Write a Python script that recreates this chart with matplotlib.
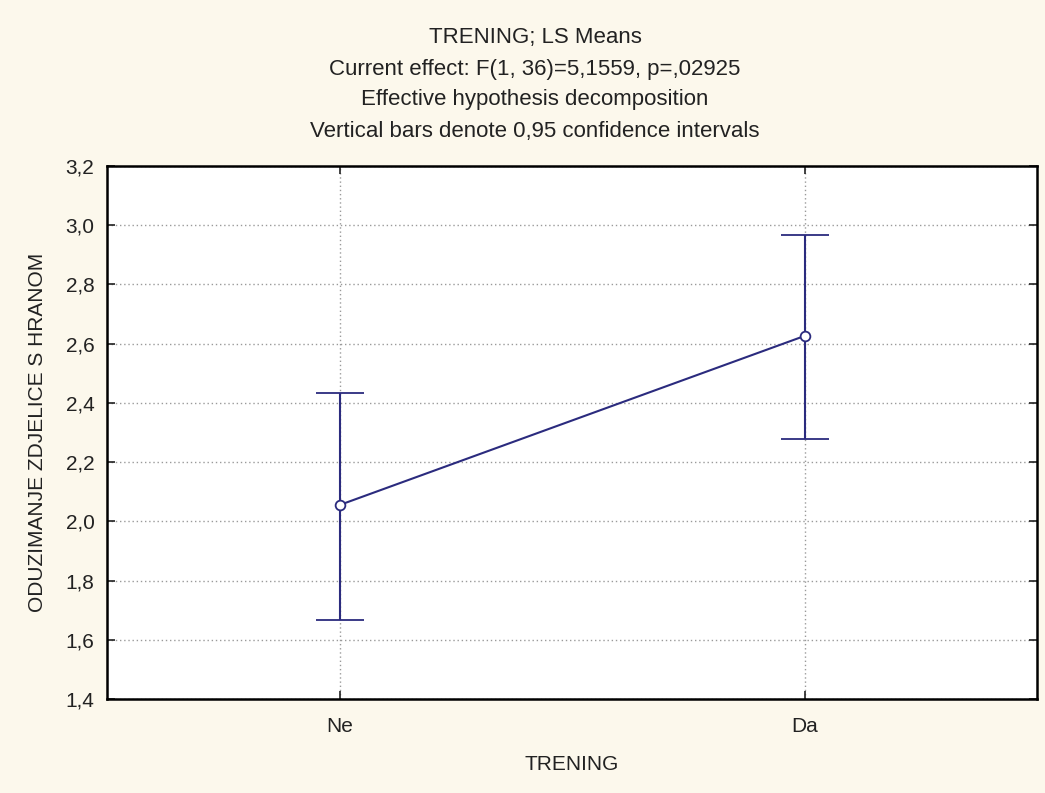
import matplotlib.pyplot as plt
from matplotlib.ticker import FuncFormatter

plt.rcParams['font.family'] = ['Liberation Sans', 'DejaVu Sans']

# LS means for TRENING with 0.95 confidence limits
groups = ['Ne', 'Da']
means = [2.055, 2.626]
ci_low = [1.667, 2.278]
ci_high = [2.432, 2.967]

title_lines = [
    'TRENING; LS Means',
    'Current effect: F(1, 36)=5,1559, p=,02925',
    'Effective hypothesis decomposition',
    'Vertical bars denote 0,95 confidence intervals',
]

bg = '#fcf8ec'
navy = '#2b2b7e'
fs = 15

fig = plt.figure(figsize=(10.45, 7.93), dpi=100, facecolor=bg)
ax = fig.add_axes([107 / 1045, 1 - 699 / 793, 930 / 1045, 533 / 793])
ax.set_facecolor('white')

x = list(range(len(groups)))
err = [[m - lo for m, lo in zip(means, ci_low)],
       [hi - m for m, hi in zip(means, ci_high)]]
ax.errorbar(x, means, yerr=err, color=navy, lw=1.5, capsize=17.5,
            capthick=1.5, marker='o', ms=7, mfc='white', mec=navy, mew=1.3,
            zorder=3)

ax.set_xlim(-0.5, 1.5)
ax.set_ylim(1.4, 3.2)
ax.set_xticks(x)
ax.set_xticklabels(groups)
ax.set_yticks([1.4 + 0.2 * i for i in range(10)])
ax.yaxis.set_major_formatter(FuncFormatter(lambda v, p: f'{v:.1f}'.replace('.', ',')))

ax.grid(True, color='#9a9a9a', linestyle=(0, (1, 2)), lw=1)
ax.tick_params(direction='in', length=6, width=1.2, labelsize=fs,
               colors='#222222', pad=9, top=True, right=True)
ax.tick_params(axis='x', pad=13)
for s in ax.spines.values():
    s.set_linewidth(1.8)

ax.set_xlabel('TRENING', fontsize=fs, color='#222222')
ax.set_ylabel('ODUZIMANJE ZDJELICE S HRANOM', fontsize=fs, color='#222222')
ax.xaxis.set_label_coords(0.5, -0.122)
ax.xaxis.label.set_va('center')
ax.yaxis.set_label_coords(-0.075, 0.5)
ax.yaxis.label.set_va('center')

for i, line in enumerate(title_lines):
    fig.text(535 / 1045, 1 - (38 + 31 * i) / 793, line, ha='center',
             va='center', fontsize=16, color='#222222')

fig.savefig('out.png', dpi=100, facecolor=bg)
